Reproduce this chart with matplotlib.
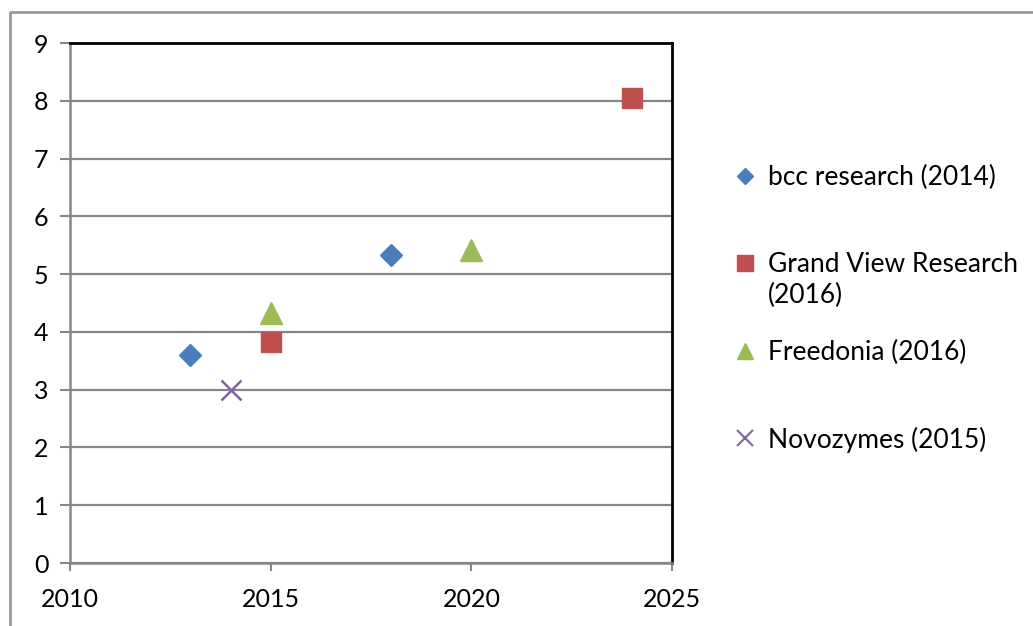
import matplotlib.pyplot as plt
from matplotlib.lines import Line2D

plt.rcParams['font.family'] = ['Lato', 'DejaVu Sans']

# data
bcc_x = [2013, 2018]
bcc_y = [3.6, 5.33]
gvr_x = [2015, 2024]
gvr_y = [3.82, 8.04]
fre_x = [2015, 2020]
fre_y = [4.32, 5.42]
novo_x = [2014]
novo_y = [3.0]

labels = ['bcc research (2014)', 'Grand View Research\n(2016)',
          'Freedonia (2016)', 'Novozymes (2015)']
x_ticks = [2010, 2015, 2020, 2025]
y_ticks = list(range(0, 10))

grey = '#868686'

fig = plt.figure(figsize=(10.33, 6.26), dpi=100)
ax = fig.add_axes([0.0678, 0.1006, 0.5828, 0.8307])

ax.plot(bcc_x, bcc_y, 'D', color='#4A7EBB', ms=11, mec='#4A7EBB', ls='none')
ax.plot(gvr_x, gvr_y, 's', color='#C0504D', ms=15, mec='#C0504D', ls='none')
ax.plot(fre_x, fre_y, '^', color='#9BBB59', ms=16, mec='#9BBB59', ls='none')
ax.plot(novo_x, novo_y, 'x', color='#8064A2', ms=14, mew=1.8, ls='none')

ax.set_xlim(2010, 2025)
ax.set_ylim(0, 9)
ax.set_xticks(x_ticks)
ax.set_yticks(y_ticks)
ax.grid(axis='y', color=grey, lw=1.6)
ax.set_axisbelow(True)
ax.tick_params(axis='both', labelsize=18, color=grey, width=1.5)
ax.tick_params(axis='y', length=7.5, pad=8)
ax.tick_params(axis='x', length=6, pad=12)
ax.spines['left'].set_color(grey)
ax.spines['bottom'].set_color(grey)
ax.spines['left'].set_linewidth(1.8)
ax.spines['bottom'].set_linewidth(1.8)
ax.spines['top'].set_linewidth(2)
ax.spines['right'].set_linewidth(2)

# legend, laid out like the Excel one
styles = [
    dict(marker='D', color='#4A7EBB', ms=8),
    dict(marker='s', color='#C0504D', ms=11),
    dict(marker='^', color='#9BBB59', ms=12),
    dict(marker='x', color='#8064A2', ms=11, mew=1.5),
]
rows_y = [176, 263, 351, 438]
for st, lab, py in zip(styles, labels, rows_y):
    fy = 1 - py / 626
    fig.add_artist(Line2D([745 / 1033], [fy], ls='none', **st))
    fig.text(768 / 1033, fy + 0.0175, lab, fontsize=19, va='top', ha='left',
             linespacing=1.3)

# outer chart border
fig.add_artist(Line2D([10 / 1033, 10 / 1033, 1.0], [0, 1 - 12 / 626, 1 - 12 / 626],
                      color='#9a9a9a', lw=2))

fig.savefig('out.png', dpi=100)
